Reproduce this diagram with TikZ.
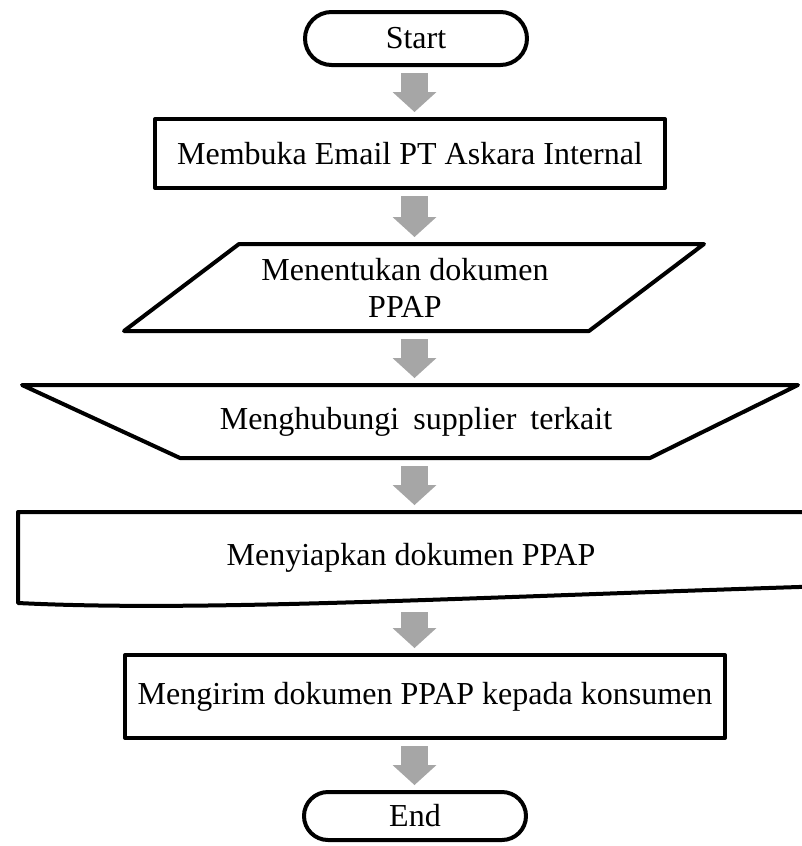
\documentclass[tikz,border=0pt]{standalone}
\usepackage{fontspec}
\setmainfont{Liberation Serif}
\usetikzlibrary{arrows.meta,calc}
\definecolor{arrowgray}{HTML}{A6A6A6}
\begin{document}
\begin{tikzpicture}[x=1pt,y=-1pt,
  shapeline/.style={draw=black, line width=4pt, line join=round},
  term/.style={shapeline, minimum width=222pt, inner sep=0pt},
  frame/.style={inner sep=0pt, outer sep=0pt},
  flowarrow/.style={draw=arrowgray, line width=27pt,
    -{Triangle[width=44pt,length=20pt,line width=0pt]},
    shorten <=6pt, shorten >=5pt},
  font=\fontsize{32}{37}\selectfont]
\clip (0,0) rectangle (802,846);
\coordinate (axis) at (414.5,0);
% shapes
\node[term, minimum height=53pt, rounded corners=26.5pt] (start) at (416,38.5) {Start};
\node[shapeline, minimum width=510pt, minimum height=69pt] (box1) at (410,153.5) {Membuka Email PT Askara Internal};
\node[frame, minimum width=582pt, minimum height=91pt, align=center] (para) at (405,287.5) {Menentukan dokumen\\PPAP};
\draw[shapeline] (239,244) -- (704,244) -- (589,331) -- (124,331) -- cycle;
\node[frame, minimum width=780pt, minimum height=77pt] (trap) at (416,421.5) {Menghubungi\hspace{14pt}supplier\hspace{14pt}terkait};
\draw[shapeline] (22,385) -- (798,385) -- (650,458) -- (180,458) -- cycle;
\node[frame, minimum width=786pt, minimum height=96pt] (doc) at (411,558) {Menyiapkan dokumen PPAP};
\draw[shapeline] (830,512) -- (18,512) -- (18,603) .. controls (200,612) and (450,598) .. (830,586);
\node[shapeline, minimum width=600pt, minimum height=83pt] (send) at (425,696.5) {Mengirim dokumen PPAP kepada konsumen};
\node[term, minimum height=48pt, rounded corners=24pt] (stop) at (415,816) {End};
% connectors
\draw[flowarrow] (start.south -| axis) -- (box1.north -| axis);
\draw[flowarrow] (box1.south -| axis) -- (para.north -| axis);
\draw[flowarrow] (para.south -| axis) -- (trap.north -| axis);
\draw[flowarrow] (trap.south -| axis) -- (doc.north -| axis);
\draw[flowarrow] (doc.south -| axis) -- (send.north -| axis);
\draw[flowarrow] (send.south -| axis) -- (stop.north -| axis);
\end{tikzpicture}
\end{document}
